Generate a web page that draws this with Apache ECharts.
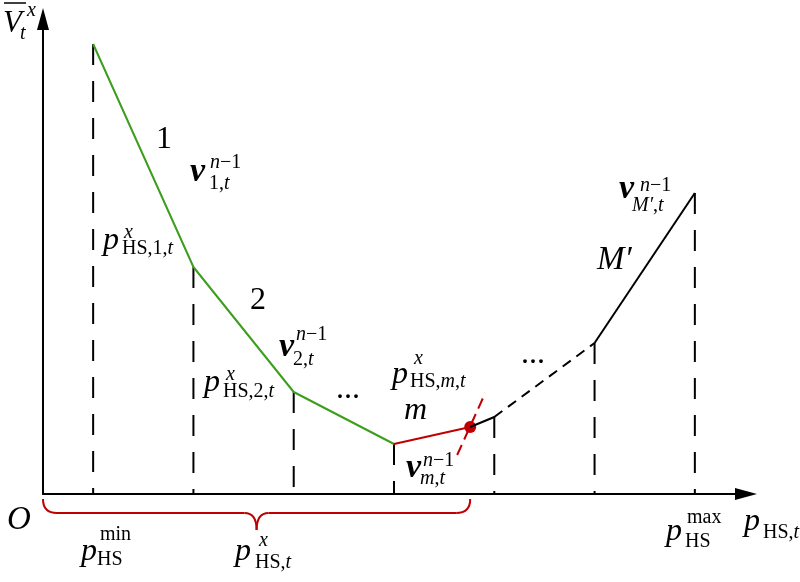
<!DOCTYPE html>
<html>
<head>
<meta charset="utf-8">
<script src="https://cdn.jsdelivr.net/npm/echarts@6/dist/echarts.min.js"></script>
<style>
  html, body { margin: 0; padding: 0; background: #fff; }
  #chart { width: 800px; height: 582px; }
</style>
</head>
<body>
<div id="chart"></div>
<script>
// breakpoints of the piecewise-linear value function
const bpX = [0.5, 1.5, 2.5, 3.5, 4.5, 5.5, 6.5];
const bpV = [4.50, 2.27, 1.02, 0.50, 0.77, 1.51, 3.01];
// current decision point p_HS,t^x and its value
const cutPoint = [4.26, 0.67];
// short red dashed marker through the cut point
const cutLineX = [4.13, 4.41];
const cutLineV = [0.39, 1.01];

const FONT = "'Liberation Serif', 'Times New Roman', serif";
const GREEN = '#3c9e1c';
const RED = '#c00000';

const chart = echarts.init(document.getElementById('chart'));

const seg = (i, j) => bpX.slice(i, j + 1).map((x, k) => [x, bpV[i + k]]);

const verticals = bpX.map((x, i) => ({
  type: 'line',
  data: [[x, bpV[i]], [x, 0]],
  symbol: 'none',
  silent: true,
  lineStyle: { color: '#000', width: 2, type: [21, 16] },
}));

function lineSeries(data, color, type) {
  return {
    type: 'line', data, symbol: 'none', silent: true,
    lineStyle: { color, width: 2, type: type || 'solid' },
  };
}

// math-like labels: [left, baseline, rich markup, font size]
const labels = [
  [3, 33, '{i|V}', 31], [27, 17, '{i|x}', 20], [20, 40, '{i|t}', 20],
  [156, 149, '{u|1}', 32],
  [190, 182, '{b|v}', 34], [210, 169, '{i|n}{u|−1}', 20], [209, 190, '{u|1,}{i|t}', 20],
  [103, 250, '{i|p}', 32], [124, 239, '{i|x}', 20], [122, 255, '{u|HS,1,}{i|t}', 20],
  [250, 310, '{u|2}', 32],
  [279, 357, '{b|v}', 34], [296, 341, '{i|n}{u|−1}', 20], [293, 366, '{u|2,}{i|t}', 20],
  [204, 392, '{i|p}', 32], [226, 381, '{i|x}', 20], [223, 398, '{u|HS,2,}{i|t}', 20],
  [336, 399, '{u|...}', 32],
  [392, 384, '{i|p}', 32], [414, 365, '{i|x}', 20], [410, 388, '{u|HS,}{i|m}{u|,}{i|t}', 20],
  [404, 420, '{i|m}', 32],
  [406, 478, '{b|v}', 34], [423, 467, '{i|n}{u|−1}', 20], [420, 485, '{i|m}{u|,}{i|t}', 20],
  [521, 364, '{u|...}', 32],
  [597, 270, '{i|M′}', 33],
  [619, 199, '{b|v}', 34], [640, 192, '{i|n}{u|−1}', 20], [632, 212, '{i|M′}{u|,}{i|t}', 20],
  [7, 530, '{i|O}', 33],
  [81, 561, '{i|p}', 32], [100, 541, '{u|min}', 20], [97, 566, '{u|HS}', 20],
  [235, 561, '{i|p}', 32], [259, 547, '{i|x}', 20], [255, 569, '{u|HS,}{i|t}', 20],
  [666, 541, '{i|p}', 32], [687, 524, '{u|max}', 20], [685, 548, '{u|HS}', 20],
  [744, 531, '{i|p}', 32], [763, 539, '{u|HS,}{i|t}', 20],
];

function textEl([x, base, markup, size]) {
  return {
    type: 'text', x, y: base - size * 0.3, silent: true,
    style: {
      text: markup, fill: '#000', fontSize: size, fontFamily: FONT,
      verticalAlign: 'middle', align: 'left',
      rich: {
        i: { fontSize: size, fontFamily: FONT, fontStyle: 'italic', fill: '#000' },
        u: { fontSize: size, fontFamily: FONT, fill: '#000' },
        b: { fontSize: size, fontFamily: FONT, fontStyle: 'italic', fontWeight: 'bold', fill: '#000' },
      },
    },
  };
}

chart.setOption({
  animation: false,
  grid: { left: 43, right: 54, top: 19, bottom: 88 },
  xAxis: {
    type: 'value', min: 0, max: 7.01,
    axisLine: { show: true, onZero: false, symbol: ['none', 'triangle'], symbolSize: [12, 22],
      lineStyle: { color: '#000', width: 2 } },
    axisTick: { show: false }, axisLabel: { show: false }, splitLine: { show: false },
  },
  yAxis: {
    type: 'value', min: 0, max: 4.75,
    axisLine: { show: true, onZero: false, symbol: ['none', 'triangle'], symbolSize: [12, 22],
      lineStyle: { color: '#000', width: 2 } },
    axisTick: { show: false }, axisLabel: { show: false }, splitLine: { show: false },
  },
  series: [
    ...verticals,
    lineSeries(seg(0, 3), GREEN),
    lineSeries([[bpX[3], bpV[3]], cutPoint], RED),
    lineSeries([cutPoint, [bpX[4], bpV[4]]], '#000'),
    lineSeries(seg(4, 5), '#000', [10, 7]),
    lineSeries(seg(5, 6), '#000'),
    lineSeries(cutLineX.map((x, i) => [x, cutLineV[i]]), RED, [11, 6]),
    {
      type: 'scatter', data: [cutPoint], symbolSize: 12, silent: true,
      itemStyle: { color: RED, opacity: 1 },
    },
  ],
});

// brace under the axis from the origin to the cut point
const [x0, y0] = chart.convertToPixel({ gridIndex: 0 }, [0, 0]);
const [x1] = chart.convertToPixel({ gridIndex: 0 }, cutPoint);
const xm = (x0 + x1) / 2;
const yt = y0 + 5, ym = y0 + 19, yp = y0 + 36;
const braceStyle = { fill: 'none', stroke: RED, lineWidth: 2 };
const curve = (a, b, c, d, cx, cy) => ({
  type: 'bezierCurve', silent: true, style: braceStyle,
  shape: { x1: a, y1: b, x2: c, y2: d, cpx1: cx, cpy1: cy },
});
const straight = (a, b, c, d) => ({
  type: 'line', silent: true, style: braceStyle, shape: { x1: a, y1: b, x2: c, y2: d },
});

chart.setOption({
  graphic: [
    curve(x0, yt, x0 + 14, ym, x0, ym),
    straight(x0 + 14, ym, xm - 12, ym),
    curve(xm - 12, ym, xm, yp, xm, ym),
    curve(xm, yp, xm + 12, ym, xm, ym),
    straight(xm + 12, ym, x1 - 14, ym),
    curve(x1 - 14, ym, x1, yt, x1, ym),
    { type: 'line', silent: true, shape: { x1: 4, y1: 3, x2: 26, y2: 3 },
      style: { stroke: '#000', lineWidth: 1.5 } },
    ...labels.map(textEl),
  ],
});
</script>
</body>
</html>
